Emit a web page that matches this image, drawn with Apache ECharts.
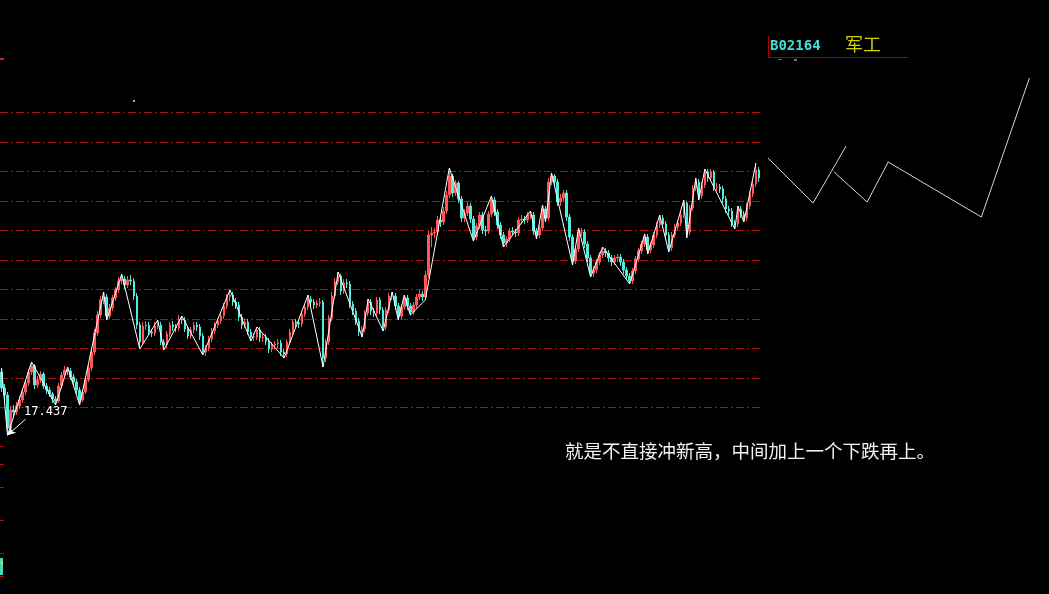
<!DOCTYPE html>
<html>
<head>
<meta charset="utf-8">
<script src="https://cdn.jsdelivr.net/npm/echarts@6/dist/echarts.min.js"></script>
<style>
html,body{margin:0;padding:0;background:#000;}
#c{width:1049px;height:594px;}
</style>
</head>
<body>
<div id="c"></div>
<script>
// ---- data (prices) ----
const opens = [18.70,18.38,18.24,17.58,17.94,17.90,18.02,18.14,18.30,18.48,18.70,18.82,18.44,18.54,18.66,18.42,18.34,18.26,18.16,18.12,
18.42,18.64,18.74,18.72,18.60,18.50,18.34,18.14,18.30,18.54,18.78,19.10,19.48,19.84,20.14,20.20,19.82,19.98,20.18,20.34,
20.52,20.56,20.44,20.54,20.52,20.22,19.64,19.30,19.62,19.64,19.50,19.48,19.62,19.64,19.30,19.24,19.46,19.64,19.60,19.58,
19.76,19.74,19.56,19.42,19.54,19.64,19.60,19.42,19.10,19.18,19.36,19.52,19.64,19.72,19.82,20.02,20.20,20.24,20.10,20.04,
19.80,19.64,19.70,19.50,19.40,19.40,19.54,19.38,19.40,19.32,19.16,19.24,19.26,19.28,19.10,19.06,19.30,19.50,19.70,19.68,
19.66,19.86,20.00,20.16,20.10,20.04,20.08,20.10,18.98,19.30,19.78,20.22,20.50,20.62,20.32,20.48,20.46,20.06,19.92,19.72,
19.50,19.56,19.88,20.10,19.92,19.88,20.14,19.94,19.60,19.94,20.22,20.22,20.02,19.82,20.00,20.18,20.02,19.90,20.04,20.20,
20.26,20.20,20.64,21.44,21.48,21.50,21.74,21.70,21.92,22.24,22.62,22.28,22.48,22.16,21.78,21.88,22.02,21.76,21.40,21.62,
21.84,21.54,21.52,21.86,22.14,21.90,21.64,21.44,21.28,21.36,21.52,21.50,21.48,21.74,21.76,21.74,21.84,21.84,21.52,21.44,
21.58,21.96,21.78,22.50,22.62,22.50,22.10,22.18,22.28,21.80,21.40,20.92,21.16,21.50,21.50,21.26,20.98,20.68,20.74,20.90,
21.04,21.12,21.08,20.98,20.90,20.98,21.00,20.90,20.74,20.62,20.52,20.72,20.96,21.12,21.26,21.40,21.14,21.24,21.44,21.64,
21.78,21.66,21.44,21.18,21.44,21.60,21.68,21.84,22.08,21.50,21.98,22.38,22.50,22.22,22.44,22.70,22.58,22.70,22.40,22.40,
22.36,22.16,21.96,21.92,21.68,21.66,21.96,21.86,21.78,22.02,22.26,22.46,22.74];
const closes = [18.38,18.24,17.58,17.94,17.90,18.02,18.14,18.30,18.48,18.70,18.82,18.44,18.54,18.66,18.42,18.34,18.26,18.16,18.12,18.42,
18.64,18.74,18.72,18.60,18.50,18.34,18.14,18.30,18.54,18.78,19.10,19.48,19.84,20.14,20.20,19.82,19.98,20.18,20.34,20.52,
20.56,20.44,20.54,20.52,20.22,19.64,19.30,19.62,19.64,19.50,19.48,19.62,19.64,19.30,19.24,19.46,19.64,19.60,19.58,19.76,
19.74,19.56,19.42,19.54,19.64,19.60,19.42,19.10,19.18,19.36,19.52,19.64,19.72,19.82,20.02,20.20,20.24,20.10,20.04,19.80,
19.64,19.70,19.50,19.40,19.40,19.54,19.38,19.40,19.32,19.16,19.24,19.26,19.28,19.10,19.06,19.30,19.50,19.70,19.68,19.66,
19.86,20.00,20.16,20.10,20.04,20.08,20.10,18.98,19.30,19.78,20.22,20.50,20.62,20.32,20.48,20.46,20.06,19.92,19.72,19.50,
19.56,19.88,20.10,19.92,19.88,20.14,19.94,19.60,19.94,20.22,20.22,20.02,19.82,20.00,20.18,20.02,19.90,20.04,20.20,20.26,
20.20,20.64,21.44,21.48,21.50,21.74,21.70,21.92,22.24,22.62,22.28,22.48,22.16,21.78,21.88,22.02,21.76,21.40,21.62,21.84,
21.54,21.52,21.86,22.14,21.90,21.64,21.44,21.28,21.36,21.52,21.50,21.48,21.74,21.76,21.74,21.84,21.84,21.52,21.44,21.58,
21.96,21.78,22.50,22.62,22.50,22.10,22.18,22.28,21.80,21.40,20.92,21.16,21.50,21.50,21.26,20.98,20.68,20.74,20.90,21.04,
21.12,21.08,20.98,20.90,20.98,21.00,20.90,20.74,20.62,20.52,20.72,20.96,21.12,21.26,21.40,21.14,21.24,21.44,21.64,21.78,
21.66,21.44,21.18,21.44,21.60,21.68,21.84,22.08,21.50,21.98,22.38,22.50,22.22,22.44,22.70,22.58,22.70,22.40,22.40,22.36,
22.16,21.96,21.92,21.68,21.66,21.96,21.86,21.78,22.02,22.26,22.46,22.74,22.58];
const lows = [18.30,18.10,17.437,17.50,17.80,17.84,17.96,18.08,18.24,18.42,18.64,18.36,18.38,18.48,18.36,18.26,18.20,18.08,18.04,18.08,
18.36,18.58,18.64,18.54,18.42,18.26,18.04,18.10,18.26,18.50,18.72,19.04,19.42,19.78,20.06,19.74,19.76,19.92,20.12,20.28,
20.46,20.36,20.38,20.44,20.14,19.56,19.16,19.24,19.54,19.44,19.40,19.42,19.56,19.24,19.14,19.18,19.40,19.52,19.50,19.52,
19.66,19.50,19.36,19.36,19.48,19.52,19.34,19.04,19.02,19.12,19.30,19.46,19.58,19.66,19.76,19.96,20.12,20.02,19.96,19.72,
19.56,19.58,19.44,19.32,19.32,19.34,19.30,19.30,19.24,19.08,19.10,19.16,19.18,19.02,18.98,19.00,19.24,19.44,19.60,19.58,
19.60,19.80,19.94,20.02,19.96,19.98,20.00,18.80,18.90,19.24,19.72,20.16,20.44,20.24,20.26,20.38,19.98,19.84,19.64,19.42,
19.40,19.50,19.82,19.84,19.80,19.82,19.86,19.52,19.54,19.88,20.14,19.94,19.74,19.76,19.94,19.94,19.84,19.84,19.98,20.14,
20.12,20.14,20.58,21.20,21.38,21.44,21.60,21.64,21.86,22.18,22.20,22.22,22.08,21.70,21.70,21.82,21.68,21.32,21.34,21.56,
21.46,21.42,21.46,21.80,21.82,21.56,21.36,21.20,21.20,21.30,21.42,21.40,21.42,21.66,21.66,21.68,21.76,21.44,21.36,21.38,
21.52,21.70,21.72,22.44,22.42,22.02,22.02,22.12,21.72,21.32,20.84,20.86,21.10,21.42,21.18,20.90,20.60,20.60,20.68,20.84,
20.98,21.00,20.90,20.82,20.84,20.90,20.82,20.66,20.54,20.46,20.46,20.66,20.90,21.06,21.20,21.06,21.08,21.18,21.38,21.58,
21.58,21.36,21.10,21.12,21.38,21.54,21.62,21.78,21.38,21.44,21.92,22.32,22.14,22.16,22.38,22.50,22.52,22.32,22.32,22.28,
22.08,21.88,21.84,21.60,21.56,21.60,21.78,21.70,21.72,21.96,22.20,22.40,22.50];
const highs = [18.78,18.46,18.30,18.02,18.04,18.10,18.22,18.36,18.54,18.76,18.90,18.86,18.62,18.72,18.70,18.48,18.40,18.30,18.22,18.48,
18.70,18.82,18.80,18.78,18.66,18.56,18.40,18.36,18.60,18.84,19.16,19.56,19.92,20.22,20.30,20.26,20.06,20.24,20.40,20.60,
20.66,20.62,20.62,20.64,20.58,20.28,19.70,19.70,19.72,19.70,19.56,19.70,19.74,19.70,19.36,19.52,19.70,19.72,19.66,19.84,
19.82,19.80,19.62,19.60,19.70,19.70,19.66,19.48,19.24,19.42,19.58,19.70,19.78,19.90,20.08,20.26,20.34,20.30,20.18,20.10,
19.86,19.78,19.76,19.56,19.48,19.60,19.60,19.46,19.46,19.38,19.30,19.32,19.36,19.34,19.16,19.36,19.56,19.76,19.76,19.74,
19.92,20.06,20.24,20.22,20.16,20.14,20.18,20.14,19.36,19.84,20.30,20.58,20.70,20.66,20.56,20.56,20.52,20.12,19.98,19.78,
19.62,19.94,20.16,20.16,19.98,20.20,20.20,20.00,20.00,20.28,20.30,20.28,20.08,20.06,20.24,20.24,20.08,20.10,20.26,20.34,
20.32,20.72,21.52,21.60,21.58,21.82,21.80,22.00,22.32,22.78,22.66,22.54,22.52,22.22,21.96,22.10,22.08,21.82,21.68,21.90,
21.90,21.62,21.92,22.22,22.20,21.96,21.70,21.50,21.42,21.58,21.60,21.56,21.80,21.84,21.82,21.90,21.92,21.90,21.58,21.64,
22.04,22.02,22.58,22.68,22.66,22.56,22.26,22.34,22.34,21.86,21.46,21.22,21.58,21.58,21.56,21.32,21.04,20.82,20.96,21.10,
21.20,21.18,21.14,21.04,21.04,21.06,21.06,20.96,20.80,20.68,20.78,21.02,21.18,21.32,21.46,21.46,21.30,21.50,21.70,21.84,
21.84,21.72,21.50,21.50,21.66,21.74,21.90,22.14,22.12,22.04,22.44,22.58,22.56,22.50,22.76,22.76,22.76,22.74,22.48,22.46,
22.42,22.22,22.02,21.98,21.74,22.02,22.02,21.92,22.08,22.32,22.52,22.88,22.80];

// zigzag overlay (bar index, price)
const zigIdx = [0,2,10,18,22,26,34,35,40,46,52,54,60,67,76,83,85,94,102,107,112,120,122,127,130,132,134,136,141,149,157,163,167,176,178,180,181,183,190,192,196,200,209,214,215,219,222,227,228,231,232,234,244,245,247,251];
const zigVal = [18.78,17.437,18.90,18.04,18.80,18.04,20.30,19.74,20.66,19.16,19.74,19.14,19.82,19.04,20.34,19.32,19.60,18.98,20.24,18.80,20.70,19.40,20.16,19.52,20.30,19.74,20.24,19.84,20.14,22.78,21.32,22.22,21.20,21.92,21.36,22.04,21.70,22.68,20.84,21.58,20.60,21.20,20.46,21.46,21.06,21.84,21.10,22.14,21.38,22.58,22.14,22.76,21.56,22.02,21.70,22.88];

// hand-drawn projection (future bar index, price)
const projAIdx = [255,270,281];
const projAVal = [22.98,22.08,23.22];
const projBIdx = [277,288,295,326,342];
const projBVal = [22.70,22.10,22.90,21.80,24.58];

// horizontal guide levels
const gridLevels = [23.89,23.29,22.71,22.11,21.53,20.93,20.35,19.75,19.17,18.57,17.99];

const totalSlots = 349;
const categories = Array.from({length: totalSlots}, (_, i) => 'D' + (i + 1));
const code = 'B02164';
const sectorName = '军工';
const note = '就是不直接冲新高，中间加上一个下跌再上。';

// ---- build ----
const candleData = opens.map((o, i) => [o, closes[i], lows[i], highs[i]]);
let lowIdx = 0;
lows.forEach((v, i) => { if (v < lows[lowIdx]) lowIdx = i; });
const lowVal = lows[lowIdx];

const chart = echarts.init(document.getElementById('c'), null, {renderer: 'canvas'});
const decorations = [
  {type: 'line', shape: {x1: 768.5, y1: 36, x2: 768.5, y2: 57}, style: {stroke: '#b00000', lineWidth: 1}},
  {type: 'line', shape: {x1: 768, y1: 57.5, x2: 908, y2: 57.5}, style: {stroke: '#b00000', lineWidth: 1}},
  {type: 'text', left: 770, top: 39, style: {text: code, fill: '#3fe0d8', font: 'bold 14px "DejaVu Sans Mono"'}},
  {type: 'text', left: 845, top: 35, style: {text: sectorName, fill: '#d2d200', font: '18px "Noto Sans CJK SC"'}},
  {type: 'rect', shape: {x: 778, y: 59, width: 4, height: 1}, style: {fill: '#707070'}},
  {type: 'rect', shape: {x: 794, y: 59, width: 3, height: 2}, style: {fill: '#707070'}},
  {type: 'text', x: 565, y: 451, style: {text: note, fill: '#f2f2f2', font: '18.5px "Noto Sans CJK SC"', textVerticalAlign: 'middle'}},
  {type: 'rect', shape: {x: 0, y: 58, width: 4, height: 2}, style: {fill: '#d02020'}},
  {type: 'rect', shape: {x: 133, y: 100, width: 2, height: 2}, style: {fill: '#b0b0b0'}},
  {type: 'rect', shape: {x: 0, y: 446, width: 4, height: 1}, style: {fill: '#d00000'}},
  {type: 'rect', shape: {x: 0, y: 464, width: 4, height: 1}, style: {fill: '#d00000'}},
  {type: 'rect', shape: {x: 0, y: 487, width: 4, height: 1}, style: {fill: '#d00000'}},
  {type: 'rect', shape: {x: 0, y: 520, width: 4, height: 1}, style: {fill: '#d00000'}},
  {type: 'rect', shape: {x: 0, y: 553, width: 4, height: 1}, style: {fill: '#d00000'}},
  {type: 'rect', shape: {x: 0, y: 576, width: 4, height: 1}, style: {fill: '#d00000'}},
  {type: 'rect', shape: {x: 0, y: 558, width: 3, height: 17}, style: {fill: '#3fd8c0'}},
  {type: 'rect', shape: {x: 1, y: 561, width: 2, height: 4}, style: {fill: '#e0d040'}}
];

const option = {
  backgroundColor: '#000000',
  animation: false,
  grid: {left: 0, right: 0, top: 0, bottom: 0},
  xAxis: {
    type: 'category', data: categories, boundaryGap: true,
    axisLine: {show: false}, axisTick: {show: false}, axisLabel: {show: false}, splitLine: {show: false}
  },
  yAxis: {
    type: 'value', min: 14.26, max: 26.14, scale: true,
    axisLine: {show: false}, axisTick: {show: false}, axisLabel: {show: false}, splitLine: {show: false}
  },
  series: [
    {
      type: 'candlestick', data: candleData, barWidth: 2, clip: false, z: 4,
      itemStyle: {color: '#ff5656', color0: '#52ecdc', borderColor: '#ff5656', borderColor0: '#52ecdc', borderWidth: 1},
      markPoint: {
        symbol: 'circle', symbolSize: 1, silent: true,
        itemStyle: {color: 'rgba(0,0,0,0)'},
        label: {show: true, position: [17, -29], color: '#ffffff', fontFamily: 'DejaVu Sans Mono', fontSize: 12,
                formatter: () => lowVal.toFixed(3)},
        data: [{coord: [lowIdx, lowVal]}]
      },
      markLine: {
        silent: true, symbol: ['none', 'arrow'], symbolSize: [6, 8], label: {show: false},
        lineStyle: {color: '#ffffff', width: 1, type: 'solid'},
        data: [[{coord: [lowIdx + 6, lowVal + 0.32]}, {coord: [lowIdx, lowVal]}]]
      }
    },
    {
      type: 'line', data: zigIdx.map((x, i) => [x, zigVal[i]]), symbol: 'none', silent: true,
      lineStyle: {color: '#ffffff', width: 1}, z: 5
    },
    {
      type: 'line', data: projAIdx.map((x, i) => [x, projAVal[i]]), symbol: 'none', silent: true,
      lineStyle: {color: '#d6d6d6', width: 1}
    },
    {
      type: 'line', data: projBIdx.map((x, i) => [x, projBVal[i]]), symbol: 'none', silent: true,
      lineStyle: {color: '#d6d6d6', width: 1}
    }
  ],
  graphic: decorations
};
chart.setOption(option);

// dashed guide levels, placed through the value axis and snapped to crisp pixel rows
const lastX = chart.convertToPixel({xAxisIndex: 0}, opens.length - 1) + 2;
const guideLines = gridLevels.map(v => {
  const py = Math.floor(chart.convertToPixel({yAxisIndex: 0}, v)) + 0.5;
  return {type: 'line', silent: true, z: 0, shape: {x1: 0, y1: py, x2: lastX, y2: py},
          style: {stroke: '#b00a0a', lineWidth: 1, lineDash: [8, 3, 2, 3]}};
});
chart.setOption({graphic: decorations.concat(guideLines)}, {replaceMerge: ['graphic']});
</script>
</body>
</html>
